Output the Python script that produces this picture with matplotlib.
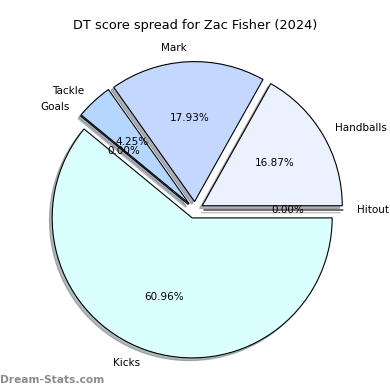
import matplotlib
matplotlib.use("Agg")
import matplotlib.pyplot as plt

labels = ["Hitout", "Handballs", "Mark", "Tackle", "Goals", "Kicks"]
values = [0.00, 16.87, 17.93, 4.25, 0.00, 60.96]
colors = ["#eaf0ff", "#ebf1ff", "#c4d8ff", "#b4d6ff", "#b4d6ff", "#d9ffff"]
explode = [0.06, 0.06, 0.06, 0.06, 0.06, 0.06]

fig = plt.figure(figsize=(3.9, 3.9), dpi=100)
W = 390.0
R = 140.0
cx, cy = 195.0, 210.0
half = 1.25 * R
ax = fig.add_axes([(cx - half) / W, (W - (cy + half)) / W, 2 * half / W, 2 * half / W])

pct_iter = iter(values)


def fmt_pct(_p):
    return "%1.2f%%" % next(pct_iter)


wedges, texts, autotexts = ax.pie(
    values, labels=labels, colors=colors, explode=explode,
    autopct=fmt_pct, startangle=0,
    shadow=dict(ox=-0.014, oy=-0.014, shade=0.55),
    wedgeprops=dict(edgecolor="black", linewidth=0.8),
    textprops=dict(fontsize=7.5),
)
ax.set_xlim(-1.25, 1.25)
ax.set_ylim(-1.25, 1.25)
ax.set_aspect("equal")

fig.text(0.5, 1 - 25 / W, "DT score spread for Zac Fisher (2024)", ha="center", va="center", fontsize=9.3)
fig.text(0.0, 1 - 380 / W, "Dream-Stats.com", ha="left", va="center", fontsize=7.7,
         color="#8c8c8c", fontweight="bold")

fig.savefig("out.png", dpi=100)
